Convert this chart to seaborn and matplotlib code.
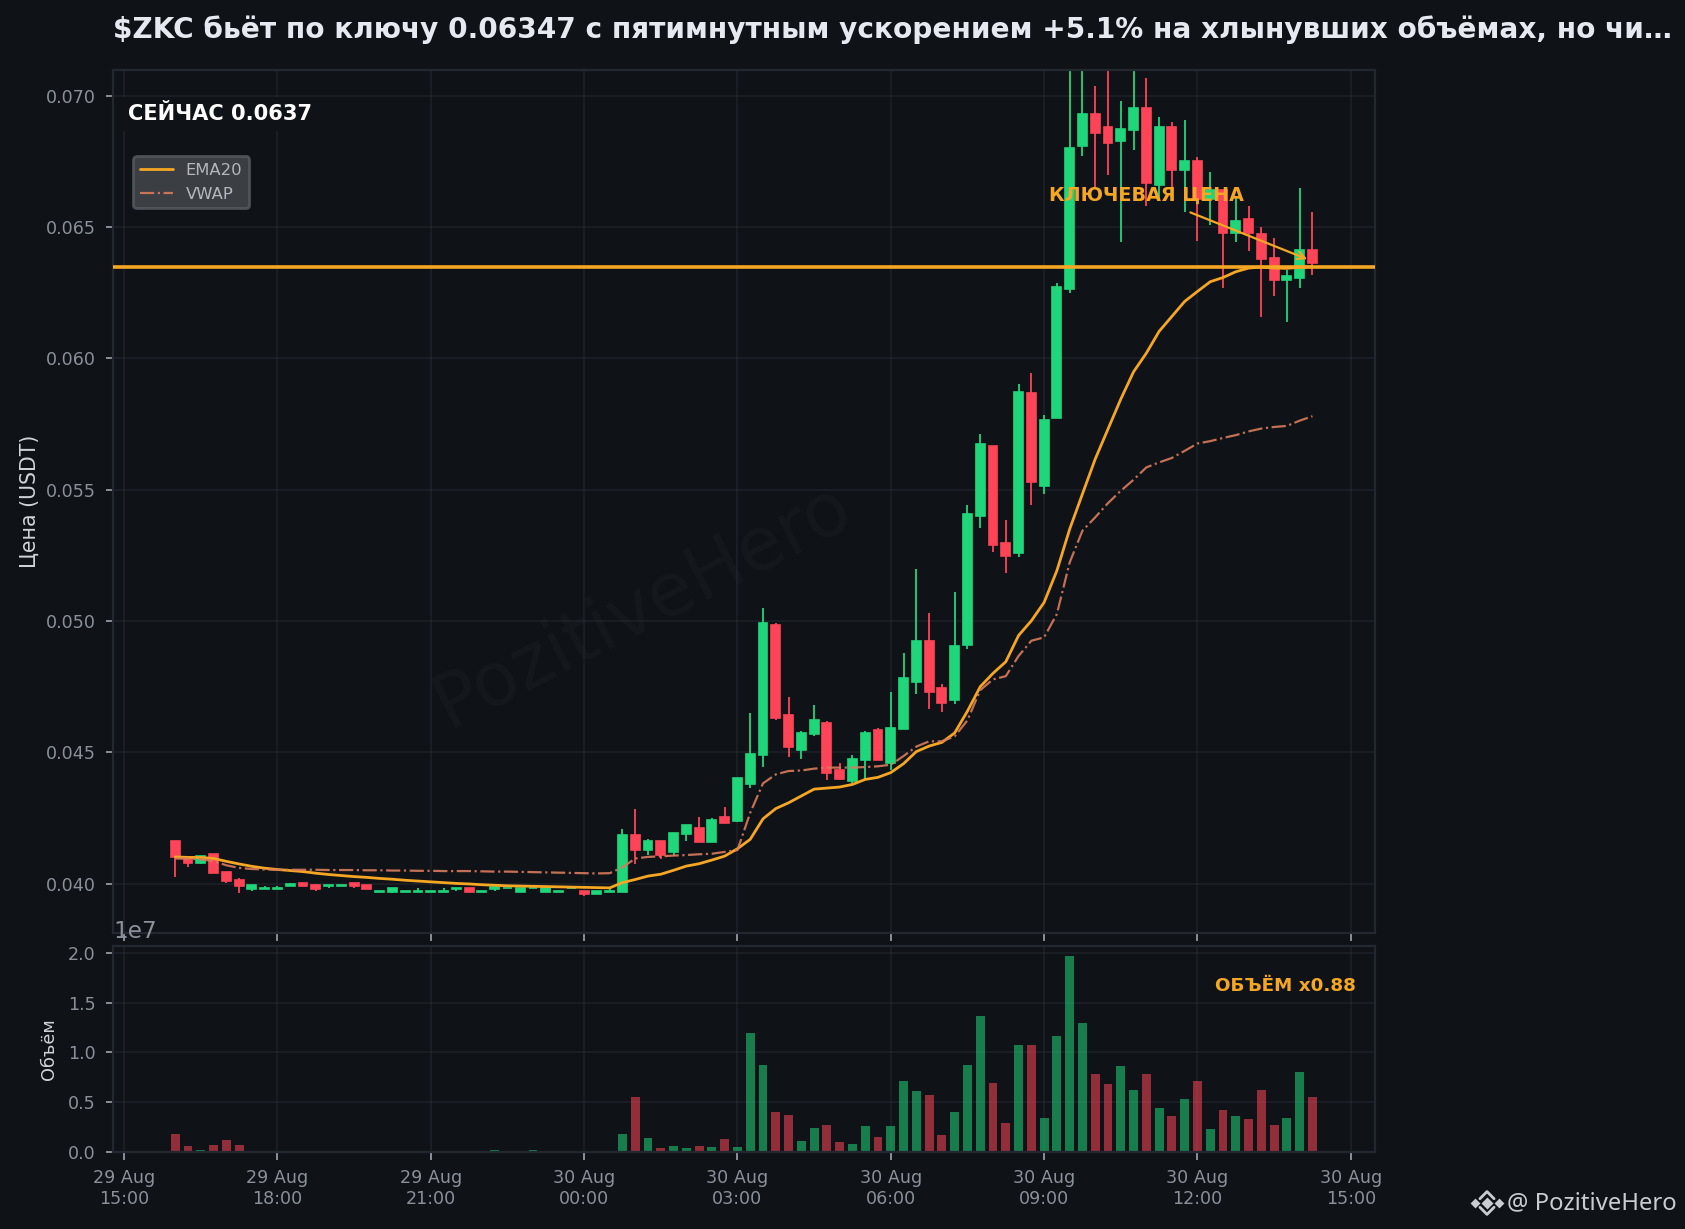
import pandas as pd
import matplotlib
matplotlib.use("Agg")
import matplotlib.pyplot as plt
import matplotlib.dates as mdates
from matplotlib.lines import Line2D
from matplotlib.ticker import MultipleLocator
import seaborn as sns

# ===============================
# Data
# ===============================
times = pd.date_range("2025-08-29 16:00", periods=90, freq="15min")

opens = [.04164, .04095, .0408, .04114, .04046, .04015, .0398, .0398, .03981, .03992,
         .04002, .03994, .03992, .03993, .04003, .03995, .0397, .0397, .0397, .0397,
         .0397, .0397, .03979, .03985, .0397, .03981, .03982, .0397, .03982, .0397,
         .0397, .03982, .03972, .03962, .0397, .0397, .04187, .04128, .04164, .04121,
         .04189, .04213, .04159, .04255, .04239, .04379, .04491, .04986, .04643, .04509,
         .0457, .04613, .04434, .04391, .04471, .04586, .04459, .04589, .04768, .04925,
         .04746, .04699, .0491, .05401, .05665, .05296, .0526, .05867, .05513, .05772,
         .06265, .06807, .0693, .06881, .06826, .06868, .06953, .06659, .06881, .06716,
         .06751, .06607, .06642, .06476, .0653, .06475, .06382, .06297, .06308, .06412]

closes = [.04102, .0408, .04105, .04042, .0401, .03992, .03996, .03984, .03984, .04,
          .03991, .0398, .03995, .03995, .03992, .0398, .03972, .03984, .03972, .03972,
          .03972, .03972, .03985, .0397, .03972, .03989, .03985, .03985, .03985, .03984,
          .03972, .03985, .03962, .03972, .03972, .04187, .04128, .04164, .0411, .04194,
          .04225, .04159, .04244, .04232, .04404, .04495, .04994, .04631, .0452, .04575,
          .04624, .04421, .04397, .04476, .04575, .04471, .04594, .04784, .04925, .0473,
          .04688, .04906, .05406, .05676, .05291, .05249, .05874, .0553, .05764, .06272,
          .06801, .0693, .06858, .0682, .06873, .06953, .06668, .06881, .06716, .06751,
          .06607, .06642, .06476, .06523, .06476, .06377, .06297, .06315, .06412, .06365]

highs = [.04164, .04095, .04105, .04114, .04046, .04023, .03996, .03992, .03992, .04003,
         .04002, .04, .03995, .03995, .04003, .03995, .03972, .03984, .03972, .03982,
         .03972, .03982, .03985, .03985, .03972, .03989, .03985, .03985, .03985, .03984,
         .03972, .03985, .03972, .03972, .03978, .04209, .04283, .04171, .04164, .04194,
         .04225, .04253, .04251, .04291, .04404, .04651, .05051, .04991, .04712, .04583,
         .04681, .04621, .04461, .04491, .04583, .04591, .04731, .04879, .05199, .05032,
         .04761, .05112, .05442, .05711, .05665, .05383, .05902, .05944, .05784, .06287,
         .0713, .0713, .07038, .0713, .06981, .0713, .07069, .0692, .06901, .06909,
         .06766, .06711, .06642, .06617, .06581, .065, .06459, .06338, .0665, .06558]

lows = [.04025, .04063, .04074, .04042, .04003, .03964, .03973, .0398, .03981, .03992,
        .03991, .03972, .03983, .03993, .03983, .0398, .0397, .03965, .0397, .0397,
        .0397, .0397, .03973, .0397, .0397, .03973, .03982, .0397, .03982, .0397,
        .0397, .03982, .03953, .03962, .0397, .03968, .04074, .0411, .04095, .04105,
        .04161, .04159, .04159, .04232, .04236, .04364, .04444, .04623, .04482, .04475,
        .04562, .04395, .04395, .04385, .044, .04471, .04431, .04589, .04722, .04664,
        .04654, .04684, .04893, .05354, .05264, .05183, .05245, .05443, .05484, .05772,
        .06251, .06769, .0665, .06699, .06442, .06792, .06582, .06604, .06629, .06558,
        .06449, .06509, .06269, .06442, .0641, .06159, .06239, .0614, .06269, .06319]

volumes = [1780000, 570000, 170000, 670000, 1180000, 670000, 20000, 10000, 10000, 10000,
           10000, 30000, 10000, 10000, 10000, 10000, 10000, 10000, 10000, 10000,
           10000, 10000, 10000, 10000, 10000, 170000, 10000, 10000, 170000, 10000,
           10000, 10000, 10000, 10000, 10000, 1780000, 5510000, 1380000, 370000, 570000,
           370000, 570000, 470000, 1280000, 470000, 11970000, 8740000, 4000000, 3700000, 1080000,
           2390000, 2690000, 970000, 770000, 2590000, 1480000, 2590000, 7130000, 6120000, 5710000,
           1680000, 4000000, 8740000, 13680000, 6920000, 2890000, 10760000, 10760000, 3390000, 11660000,
           19730000, 12970000, 7830000, 6820000, 8640000, 6220000, 7830000, 4400000, 3600000, 5310000,
           7130000, 2290000, 4200000, 3600000, 3290000, 6220000, 2690000, 3390000, 8030000, 5510000]

ema20 = [.04102, .041, .041, .04096, .04085, .04075, .04066, .04059, .04054, .0405,
         .04046, .0404, .04035, .04031, .04027, .04024, .0402, .04017, .04013, .0401,
         .04007, .04004, .04001, .03999, .03996, .03994, .03992, .03991, .0399, .03989,
         .03988, .03987, .03986, .03985, .03984, .04004, .04016, .04029, .04036, .04051,
         .04067, .04076, .0409, .04105, .04133, .04169, .04247, .04286, .04308, .04334,
         .0436, .04364, .04368, .04378, .04397, .04405, .04423, .04457, .04503, .04524,
         .04538, .04574, .04657, .0475, .04801, .04845, .04945, .05001, .05071, .05192,
         .0535, .05484, .05617, .05731, .05845, .05949, .0602, .06103, .0616, .06217,
         .06255, .06292, .06308, .0633, .06344, .06348, .06344, .06343, .06347, .06349]

vwap = [.04096, .04095, .04093, .04086, .0407, .0406, .04056, .04054, .04053, .04053,
        .04053, .04053, .04052, .04052, .04052, .04051, .04051, .0405, .0405, .04049,
        .04049, .04048, .04048, .04048, .04047, .04046, .04046, .04045, .04044, .04043,
        .04042, .04041, .0404, .04039, .0404, .04062, .04096, .04102, .04104, .04107,
        .04109, .04112, .04114, .04121, .04128, .0427, .04382, .04416, .04429, .04431,
        .04438, .04442, .04442, .04442, .04444, .04447, .04453, .04486, .04522, .04542,
        .04542, .04561, .04622, .04737, .04778, .0479, .04867, .04925, .04938, .05027,
        .05223, .05344, .05395, .05449, .05496, .05538, .05585, .05604, .05621, .05648,
        .05676, .05685, .05697, .05708, .05722, .05733, .05739, .05743, .05763, .0578]

key_price = 0.06347
now_price = 0.0637

title = "$ZKC бьёт по ключу 0.06347 с пятимнутным ускорением +5.1% на хлынувших объёмах, но чи…"

# ===============================
# Colours and theme
# ===============================
BG = "#0f1217"
UP = "#20d67b"
DOWN = "#ff4458"
ORANGE = "#f5a623"
COPPER = "#d97b5c"
TICK = "#8b9099"

sns.set_theme(style="darkgrid", rc={
    "figure.facecolor": BG,
    "axes.facecolor": BG,
    "axes.edgecolor": "#232830",
    "axes.linewidth": 0.8,
    "grid.color": "#2a2f38",
    "grid.alpha": 0.5,
    "grid.linewidth": 0.6,
    "xtick.color": TICK,
    "ytick.color": TICK,
    "xtick.bottom": True,
    "ytick.left": True,
    "xtick.major.size": 2.7,
    "ytick.major.size": 2.7,
    "xtick.major.width": 0.7,
    "ytick.major.width": 0.7,
    "xtick.labelsize": 6.3,
    "ytick.labelsize": 6.3,
})
plt.rcParams["font.family"] = ["DejaVu Sans"]

fig = plt.figure(figsize=(8.425, 6.145), dpi=200)
ax = fig.add_axes([0.0671, 0.2408, 0.7487, 0.7022])
ax_vol = fig.add_axes([0.0671, 0.0627, 0.7487, 0.1676], sharex=ax)

t = mdates.date2num(times)
bar_w = 0.7 * (t[1] - t[0])
is_up = [c >= o for o, c in zip(opens, closes)]
colors = [UP if u else DOWN for u in is_up]

# ===============================
# Price panel
# ===============================
ax.vlines(t, lows, highs, colors=colors, linewidth=0.65, zorder=0.9)
ax.bar(t, [abs(c - o) for o, c in zip(opens, closes)], bottom=[min(o, c) for o, c in zip(opens, closes)],
       width=bar_w, color=colors, edgecolor=colors, linewidth=0.6, zorder=1)

sns.lineplot(x=t, y=ema20, color=ORANGE, linewidth=1.0, label="EMA20", ax=ax, zorder=3)
sns.lineplot(x=t, y=vwap, color=COPPER, linewidth=0.8, linestyle="-.", alpha=0.9, label="VWAP", ax=ax, zorder=3)
ax.axhline(key_price, color=ORANGE, linewidth=1.3, zorder=4)

ax.annotate("КЛЮЧЕВАЯ ЦЕНА", xy=(t[-1], now_price), xytext=(pd.Timestamp("2025-08-30 11:00"), 0.06623),
            color=ORANGE, fontsize=6.9, fontweight="bold", ha="center", va="center", zorder=5,
            arrowprops=dict(arrowstyle="->", color=ORANGE, lw=0.8, shrinkB=2))

ax.text(0.012, 0.949, "СЕЙЧАС 0.0637", transform=ax.transAxes, color="white", fontsize=7.55, fontweight="bold",
        va="center", zorder=5, bbox=dict(facecolor=BG, edgecolor="none", pad=2.5))
ax.text(0.42, 0.379, "PozitiveHero", transform=ax.transAxes, color="white", alpha=0.028, fontsize=26.5,
        rotation=27, ha="center", va="center", zorder=0.5)

ax.set_ylim(0.03812, 0.07098)
ax.yaxis.set_major_locator(MultipleLocator(0.005))
ax.set_ylabel("Цена (USDT)", color="#d0d3d8", fontsize=7.4)
ax.yaxis.set_label_coords(-0.058, 0.5)
ax.set_xlabel("")
ax.tick_params(axis="x", labelbottom=False)
ax.grid(True)
leg = ax.legend(loc="upper left", bbox_to_anchor=(0.016, 0.90), borderaxespad=0, fontsize=5.9, labelspacing=0.55,
                facecolor="#44474c", edgecolor="#555a60", framealpha=0.85)
for txt in leg.get_texts():
    txt.set_color("#b4b7bd")

fig.text(113 / 1685, 1 - 30 / 1229, title, parse_math=False, color="#e6e9ef", fontsize=10.08,
         fontweight="bold", va="center", ha="left")

# ===============================
# Volume panel
# ===============================
sns.barplot(x=t, y=volumes, hue=["up" if u else "down" for u in is_up], palette={"up": UP, "down": DOWN},
            native_scale=True, dodge=False, width=0.7, saturation=1, alpha=0.55, linewidth=0, edgecolor="none",
            legend=False, ax=ax_vol)
ax_vol.set_ylim(0, 2.07e7)
ax_vol.yaxis.set_major_locator(MultipleLocator(5e6))
ax_vol.yaxis.get_offset_text().set_fontsize(8.4)
ax_vol.yaxis.get_offset_text().set_color(TICK)
ax_vol.set_ylabel("Объём", color="#d0d3d8", fontsize=6.4)
ax_vol.yaxis.set_label_coords(-0.044, 0.5)
ax_vol.set_xlabel("")
ax_vol.grid(True)
ax_vol.text(0.985, 0.807, "ОБЪЁМ x0.88", transform=ax_vol.transAxes, color=ORANGE, fontsize=6.6,
            fontweight="bold", ha="right", va="center")

ax_vol.xaxis.set_major_locator(mdates.HourLocator(byhour=range(0, 24, 3)))
ax_vol.xaxis.set_major_formatter(mdates.DateFormatter("%d %b\n%H:%M"))
ax_vol.set_xlim(mdates.date2num(pd.Timestamp("2025-08-29 14:47")), mdates.date2num(pd.Timestamp("2025-08-30 15:28")))

# ===============================
# Corner mark
# ===============================
mark = "#c9ccd1"
cx, cy = 1487 / 1685, 1 - 1203 / 1229
dx, dy = 0.0042, 0.0058
fig.add_artist(Line2D([cx], [cy], marker="D", markersize=1.8, color=mark, transform=fig.transFigure))
fig.add_artist(Line2D([cx - dx * 1.7, cx + dx * 1.7], [cy, cy], marker="D", markersize=1.5, linestyle="none",
                      color=mark, transform=fig.transFigure))
fig.add_artist(Line2D([cx - dx, cx, cx + dx], [cy + dy * 0.6, cy + dy * 1.6, cy + dy * 0.6], color=mark,
                      linewidth=1.0, transform=fig.transFigure))
fig.add_artist(Line2D([cx - dx, cx, cx + dx], [cy - dy * 0.6, cy - dy * 1.6, cy - dy * 0.6], color=mark,
                      linewidth=1.0, transform=fig.transFigure))
fig.text(1507 / 1685, 1 - 1203 / 1229, "@ PozitiveHero", color=mark, fontsize=8.6, family="Noto Sans",
         va="center", ha="left")

fig.savefig("out.png", dpi=200, facecolor=BG)
